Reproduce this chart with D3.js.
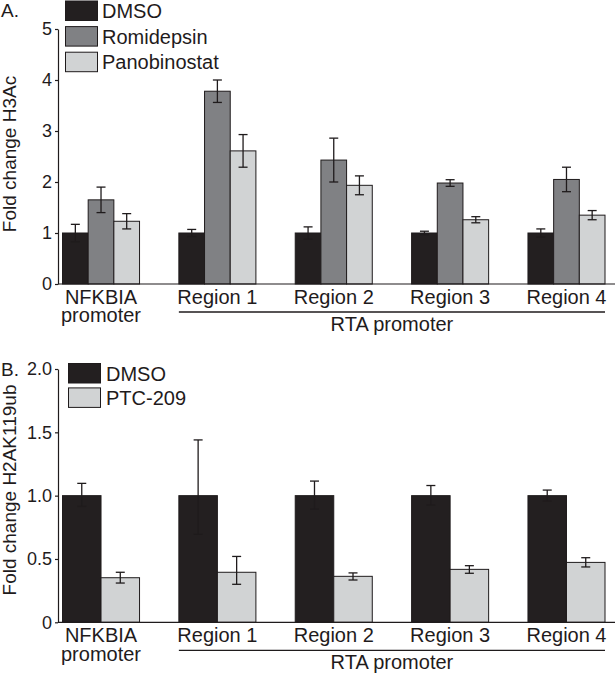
<!DOCTYPE html>
<html>
<head>
<meta charset="utf-8">
<script src="https://cdn.jsdelivr.net/npm/d3@7"></script>
<style>
  body { margin: 0; background: #fff; }
  svg { display: block; font-family: "Liberation Sans", Arial, sans-serif; }
</style>
</head>
<body>
<div id="main"></div>
<script>
// Data
const categories = ["NFKBIA", "Region 1", "Region 2", "Region 3", "Region 4"];

// Panel A: fold change H3Ac
const dmsoA = [1, 1, 1, 1, 1];
const dmsoAErr = [0.17, 0.07, 0.12, 0.035, 0.08];
const romiA = [1.65, 3.78, 2.43, 1.98, 2.05];
const romiAErr = [0.25, 0.22, 0.43, 0.065, 0.24];
const panoA = [1.23, 2.61, 1.935, 1.26, 1.35];
const panoAErr = [0.15, 0.32, 0.185, 0.06, 0.09];
const ticksA = [0, 1, 2, 3, 4, 5];

// Panel B: fold change H2AK119ub (error bars are not symmetric)
const dmsoB = [1, 1, 1, 1, 1];
const dmsoBErrUp = [0.097, 0.44, 0.115, 0.08, 0.044];
const dmsoBErrDown = [0.085, 0.305, 0.106, 0.074, 0.043];
const ptcB = [0.352, 0.395, 0.363, 0.418, 0.473];
const ptcBErrUp = [0.043, 0.125, 0.027, 0.029, 0.037];
const ptcBErrDown = [0.042, 0.095, 0.029, 0.031, 0.036];
const ticksB = [0, 0.5, 1.0, 1.5, 2.0];

// Colours
const ink = "#1f1b1c";
const colDmso = "#231f20";
const colRomi = "#808184";
const colLight = "#d1d3d4";

// Layout config
const width = 615;
const height = 674;
const axisX = 58;

const panels = [
  {
    letter: "A.",
    letterY: 17,
    yLabel: "Fold change H3Ac",
    yLabelY: 154,
    top: 29,
    bottom: 284,
    yMax: 5,
    ticks: ticksA,
    fmt: d3.format("d"),
    legendX: 65.5,
    legendY: 1,
    legendStep: 25.6,
    legendTextX: 102,
    series: [
      { name: "DMSO", color: colDmso, values: dmsoA, up: dmsoAErr, down: dmsoAErr },
      { name: "Romidepsin", color: colRomi, values: romiA, up: romiAErr, down: romiAErr },
      { name: "Panobinostat", color: colLight, values: panoA, up: panoAErr, down: panoAErr },
    ],
  },
  {
    letter: "B.",
    letterY: 376,
    yLabel: "Fold change H2AK119ub",
    yLabelY: 490,
    top: 369,
    bottom: 622.3,
    yMax: 2,
    ticks: ticksB,
    fmt: (d) => (d === 0 ? "0" : d3.format(".1f")(d)),
    legendX: 68.5,
    legendY: 363.5,
    legendStep: 24.4,
    legendTextX: 106,
    series: [
      { name: "DMSO", color: colDmso, values: dmsoB, up: dmsoBErrUp, down: dmsoBErrDown },
      { name: "PTC-209", color: colLight, values: ptcB, up: ptcBErrUp, down: ptcBErrDown },
    ],
  },
];

const svg = d3
  .select("#main")
  .append("svg")
  .attr("width", width)
  .attr("height", height);

panels.forEach((cfg) => {
  const g = svg.append("g");

  const x = d3
    .scaleBand()
    .domain(categories)
    .range([62.5, 605])
    .paddingInner(0.338);
  const xs = d3
    .scaleBand()
    .domain(cfg.series.map((s) => s.name))
    .range([0, x.bandwidth()]);
  const y = d3.scaleLinear().domain([0, cfg.yMax]).range([cfg.bottom, cfg.top]);

  // Bars
  cfg.series.forEach((s) => {
    const rows = categories.map((c, i) => ({
      c,
      v: s.values[i],
      up: s.up[i],
      down: s.down[i],
    }));
    const sg = g.append("g");
    sg.selectAll("rect")
      .data(rows)
      .join("rect")
      .attr("x", (d) => x(d.c) + xs(s.name))
      .attr("width", xs.bandwidth())
      .attr("y", (d) => y(d.v))
      .attr("height", (d) => y(0) - y(d.v))
      .attr("fill", s.color)
      .attr("stroke", ink)
      .attr("stroke-width", 1);

    // Error bars
    const eg = sg
      .selectAll("g.err")
      .data(rows)
      .join("g")
      .attr("class", "err")
      .attr("stroke", ink)
      .attr("stroke-width", 1.3);
    const cx = (d) => x(d.c) + xs(s.name) + xs.bandwidth() / 2;
    eg.append("line")
      .attr("x1", cx)
      .attr("x2", cx)
      .attr("y1", (d) => y(d.v + d.up))
      .attr("y2", (d) => y(d.v - d.down));
    eg.append("line")
      .attr("x1", (d) => cx(d) - 4.5)
      .attr("x2", (d) => cx(d) + 4.5)
      .attr("y1", (d) => y(d.v + d.up))
      .attr("y2", (d) => y(d.v + d.up));
    eg.append("line")
      .attr("x1", (d) => cx(d) - 4.5)
      .attr("x2", (d) => cx(d) + 4.5)
      .attr("y1", (d) => y(d.v - d.down))
      .attr("y2", (d) => y(d.v - d.down));
  });

  // y axis
  const yg = g
    .append("g")
    .attr("transform", `translate(${axisX},0)`)
    .call(
      d3
        .axisLeft(y)
        .tickValues(cfg.ticks)
        .tickFormat(cfg.fmt)
        .tickSize(3)
        .tickSizeOuter(0)
        .tickPadding(3)
    );
  yg.selectAll("path, line").attr("stroke", ink).attr("stroke-width", 1.2);
  yg.selectAll("text")
    .attr("fill", ink)
    .style("font-size", "18px")
    .style("font-family", "'Liberation Sans', Arial, sans-serif");

  // x axis line
  g.append("line")
    .attr("x1", axisX)
    .attr("x2", width)
    .attr("y1", y(0))
    .attr("y2", y(0))
    .attr("stroke", ink)
    .attr("stroke-width", 1.2);

  // Category labels (NFKBIA gets a second line)
  const cl = g
    .append("g")
    .selectAll("text")
    .data(categories)
    .join("text")
    .attr("x", (d) => x(d) + x.bandwidth() / 2)
    .attr("y", y(0) + 20)
    .attr("text-anchor", "middle")
    .attr("fill", ink)
    .style("font-size", "20px");
  cl.append("tspan").text((d) => d);
  cl.filter((d) => d === "NFKBIA")
    .append("tspan")
    .attr("x", x("NFKBIA") + x.bandwidth() / 2)
    .attr("dy", 18.3)
    .text("promoter");

  // RTA promoter bracket
  const bx0 = x("Region 1");
  const bx1 = x("Region 4") + x.bandwidth();
  g.append("line")
    .attr("x1", bx0)
    .attr("x2", bx1)
    .attr("y1", y(0) + 28)
    .attr("y2", y(0) + 28)
    .attr("stroke", ink)
    .attr("stroke-width", 1.3);
  g.append("text")
    .attr("x", (bx0 + bx1) / 2)
    .attr("y", y(0) + 47)
    .attr("text-anchor", "middle")
    .attr("fill", ink)
    .style("font-size", "20px")
    .text("RTA promoter");

  // y label
  g.append("text")
    .attr("transform", `translate(16,${cfg.yLabelY}) rotate(-90)`)
    .attr("text-anchor", "middle")
    .attr("fill", ink)
    .style("font-size", "19px")
    .text(cfg.yLabel);

  // Panel letter
  g.append("text")
    .attr("x", 1)
    .attr("y", cfg.letterY)
    .attr("fill", ink)
    .style("font-size", "19px")
    .text(cfg.letter);

  // Legend
  const lg = g
    .append("g")
    .selectAll("g")
    .data(cfg.series)
    .join("g")
    .attr("transform", (d, i) => `translate(0,${cfg.legendY + i * cfg.legendStep})`);
  lg.append("rect")
    .attr("x", cfg.legendX)
    .attr("width", 32)
    .attr("height", 19.5)
    .attr("fill", (d) => d.color)
    .attr("stroke", ink)
    .attr("stroke-width", 1);
  lg.append("text")
    .attr("x", cfg.legendTextX)
    .attr("y", 17)
    .attr("fill", ink)
    .style("font-size", "20px")
    .text((d) => d.name);
});
</script>
</body>
</html>
